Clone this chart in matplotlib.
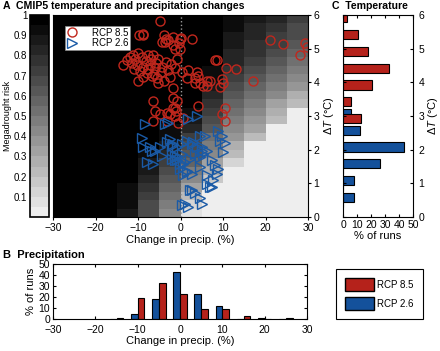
import numpy as np
import matplotlib
matplotlib.use("Agg")
import matplotlib.pyplot as plt
from matplotlib.colors import ListedColormap, Normalize
from matplotlib.patches import Patch

plt.rcParams["font.family"] = ["Liberation Sans", "DejaVu Sans"]
plt.rcParams["mathtext.fontset"] = "custom"
plt.rcParams["mathtext.rm"] = "Liberation Sans"
plt.rcParams["mathtext.it"] = "Liberation Sans:italic"
plt.rcParams["font.size"] = 7

# --- background risk grid (%), rows from dT=6 (top) down to dT=0, cols precip -30..30 ---
precip_edges = [-30, -25, -20, -15, -10, -5, 0, 5, 10, 15, 20, 25, 30]
temp_edges = [i * 0.25 for i in range(25)]
risk_grid = [
    [100, 100, 100, 100, 100, 100, 100, 100, 93, 86, 80, 72],
    [100, 100, 100, 100, 100, 100, 100, 100, 91, 84, 77, 69],
    [100, 100, 100, 100, 100, 100, 100, 100, 89, 81, 74, 65],
    [100, 100, 100, 100, 100, 100, 100, 100, 86, 78, 70, 61],
    [100, 100, 100, 100, 100, 100, 100, 100, 83, 75, 66, 57],
    [100, 100, 100, 100, 100, 100, 100, 97, 80, 71, 62, 52],
    [100, 100, 100, 100, 100, 100, 100, 94, 76, 67, 57, 47],
    [100, 100, 100, 100, 100, 100, 100, 90, 72, 63, 52, 41],
    [100, 100, 100, 100, 100, 100, 100, 86, 68, 58, 46, 35],
    [100, 100, 100, 100, 100, 100, 100, 82, 63, 53, 40, 29],
    [100, 100, 100, 100, 100, 100, 95, 77, 58, 48, 34, 22],
    [100, 100, 100, 100, 100, 100, 90, 72, 53, 42, 27, 3],
    [100, 100, 100, 100, 100, 97, 85, 66, 47, 36, 20, 3],
    [100, 100, 100, 100, 100, 94, 80, 60, 41, 30, 3, 3],
    [100, 100, 100, 100, 97, 90, 74, 54, 35, 22, 3, 3],
    [100, 100, 100, 100, 95, 85, 68, 47, 28, 3, 3, 3],
    [100, 100, 100, 98, 92, 80, 62, 40, 21, 3, 3, 3],
    [100, 100, 100, 97, 88, 74, 55, 33, 14, 3, 3, 3],
    [100, 100, 100, 96, 85, 68, 48, 25, 3, 3, 3, 3],
    [100, 100, 100, 95, 80, 62, 40, 17, 3, 3, 3, 3],
    [100, 100, 100, 93, 76, 56, 30, 3, 3, 3, 3, 3],
    [100, 100, 100, 92, 72, 50, 20, 3, 3, 3, 3, 3],
    [100, 100, 98, 90, 68, 45, 12, 3, 3, 3, 3, 3],
    [100, 100, 98, 89, 65, 42, 8, 3, 3, 3, 3, 3],
]

# --- model runs: (precip change %, dT) ---
rcp85_precip = [-4.8, -9.7, -8.9, -8.75, -4.0, -3.4, -1.7, -0.1, 0.05, -0.3, 2.6,
                -4.4, -2.9, -1.3, -3.6, -1.8, -0.1,
                -13.6, -11.9, -11.1, -9.9, -9.1, -7.6, -6.5, -5.3, -11.5, -10.3, -8.75,
                -7.2, -6.0, -4.4, -2.9, -8.0, -6.8, -5.6, -4.0, -5.2, -1.3, 0.3, 1.8,
                1.5, 3.8, 4.2, 3.4, 6.2, 5.4, -9.9, -1.7,
                -12.5, -10.8, -8.2, -7.0, -5.8, -9.5, -7.6, -3.5, -2.2, -0.8, -11.0,
                -6.3, -4.6, -2.5, -8.8,
                -6.4, -1.7, -0.9, -1.7, -1.3, -1.1, 4.2,
                -6.0, -3.2, -1.3, 0.7, -6.4, -3.2, -4.8, -2.5, -0.5,
                8.1, 8.6, 10.7, 13.1, 9.7, 10.1, 9.3, 17.1, 7.0, 4.6, 3.4, 6.2,
                10.5, 9.7, 10.5, 21.1, 24.2, 28.1, 29.3, 29.7]
rcp85_temp = [5.81, 5.42, 5.42, 5.45, 5.4, 5.3, 5.35, 5.3, 5.32, 5.16, 5.3,
              5.2, 5.25, 5.0, 5.2, 5.1, 5.0,
              4.52, 4.76, 4.81, 4.86, 4.76, 4.8, 4.8, 4.7, 4.57, 4.52, 4.47,
              4.52, 4.42, 4.47, 4.37, 4.27, 4.18, 4.13, 4.03, 3.98, 4.42, 4.32, 4.37,
              4.13, 4.32, 4.18, 3.98, 4.03, 3.88, 4.03, 3.83,
              4.65, 4.68, 4.62, 4.68, 4.58, 4.35, 4.4, 4.6, 4.55, 4.7, 4.4,
              4.25, 4.3, 4.15, 4.15,
              3.46, 3.54, 3.44, 3.24, 3.24, 3.15, 3.29,
              3.15, 3.1, 3.0, 2.95, 2.85, 2.85, 3.05, 3.05, 2.8,
              4.67, 4.67, 4.42, 4.4, 4.1, 3.98, 3.85, 4.05, 4.03, 3.98, 4.13, 3.88,
              3.24, 3.05, 2.85, 5.25, 5.13, 4.81, 5.16, 5.06]

rcp26_precip = [-9.1, -8.4, -8.75, -6.8, -6.0, -8.0, -6.4, -4.4, -4.8, -3.2, -2.5,
                -3.6, -2.9, 1.8, 3.8,
                -2.1, -0.9, 0.3, 1.5, 2.6, 3.8, 5.0, -2.1, -0.9, 0.3, -1.3, -0.1,
                1.1, 2.2, 3.4, 4.6, 1.5, 0.7, 2.6, 4.6,
                5.8, 4.6, 2.2, 3.4, 4.6, 1.1, 1.8, 6.2, 6.2,
                8.9, 9.7, 9.3, 10.5, 10.1, 7.3, 8.1, 8.9, 8.5, 7.7, 7.3, 6.9,
                2.6, 5.0, 0.3,
                -2.1, -0.9, 0.7, -0.1, 1.5, -1.3, 5.0, 6.2, 5.4, -7.2, -1.7, 3.0]
rcp26_temp = [2.36, 2.76, 2.07, 1.97, 1.97, 1.63, 1.58, 1.82, 2.07, 2.22, 2.31,
              2.76, 2.8, 2.9, 3.0,
              2.12, 2.07, 2.17, 2.26, 2.17, 2.07, 1.97, 1.87, 1.82, 1.87, 1.68, 1.58,
              1.63, 1.73, 1.87, 1.77, 1.38, 1.24, 1.29, 1.48,
              2.41, 2.41, 0.8, 0.7, 0.55, 0.4, 0.3, 1.24, 0.99,
              2.56, 2.41, 2.26, 2.21, 1.92, 1.68, 1.53, 1.43, 1.29, 1.09, 0.89, 0.89,
              0.79, 0.4, 0.35,
              1.73, 1.68, 1.58, 1.43, 1.33, 1.82, 2.07, 1.97, 1.87, 2.07, 2.17, 2.22]

# --- histogram B: precip change ---
precip_bins = [-15, -10, -5, 0, 5, 10, 15, 20, 25]
precip_pct_26 = [0, 5, 18.5, 43, 23, 11.5, 0, 1, 0]
precip_pct_85 = [1, 19, 33, 23, 9.5, 9, 2.5, 0, 1]

# --- histogram C: temperature change ---
temp_bins = [0.5, 1.0, 1.5, 2.0, 2.5, 3.0, 3.5, 4.0, 4.5, 5.0, 5.5, 6.0]
temp_pct_26 = [7.5, 7.5, 26.5, 43.5, 12, 6, 0, 0, 0, 0, 0, 0]
temp_pct_85 = [0, 0, 0, 0, 0, 12.5, 5.5, 21, 33, 17.5, 11, 2.5]

RED = "#c0271d"
BLUE = "#1a5aa6"
BAR_RED = "#b5221b"
BAR_BLUE = "#14519b"

W, H = 440, 351
fig = plt.figure(figsize=(W / 100, H / 100), dpi=100)


def box(x0, y0, x1, y1):
    return [x0 / W, 1 - y1 / H, (x1 - x0) / W, (y1 - y0) / H]


levels = 20
cmap = ListedColormap(plt.cm.gray_r(np.linspace(0.07, 1.0, levels)))
norm = Normalize(0, 1)

# ---- panel A ----
ax = fig.add_axes(box(53, 15, 308, 217))
grid = np.flipud(np.array(risk_grid) / 100.0)
mesh = ax.pcolormesh(precip_edges, temp_edges, grid, cmap=cmap, norm=norm)
ax.axvline(0, color="#9a9a9a", ls=":", lw=1)
ax.plot(rcp85_precip, rcp85_temp, "o", ms=6.5, mfc="none", mec=RED, mew=1.0,
        label="RCP 8.5")
ax.plot(rcp26_precip, rcp26_temp, ">", ms=6.5, mfc="none", mec=BLUE, mew=1.0,
        label="RCP 2.6")
ax.set_xlim(-30, 30)
ax.set_ylim(0, 6)
ax.set_xticks([-30, -20, -10, 0, 10, 20, 30])
ax.set_xticklabels(["\u221230", "\u221220", "\u221210", "0", "10", "20", "30"])
ax.yaxis.tick_right()
ax.yaxis.set_label_position("right")
ax.set_yticks(range(7))
ax.tick_params(labelsize=7.5, length=2, pad=2)
ax.set_xlabel("Change in precip. (%)", fontsize=8, labelpad=2)
ax.set_ylabel("\u0394$\\mathit{T}$ (\u00b0C)", fontsize=8, labelpad=2)
leg = ax.legend(loc="upper left", bbox_to_anchor=(0.047, 0.945), fontsize=7,
                frameon=True, fancybox=False, framealpha=1, borderpad=0.15,
                labelspacing=0.05, handlelength=1.2, handletextpad=1.4,
                borderaxespad=0)
leg.get_frame().set_edgecolor("#888888")
leg.get_frame().set_linewidth(0.5)
ax.set_title("A  CMIP5 temperature and precipitation changes", fontsize=7.6,
             fontweight="bold", loc="left", x=-0.196, pad=4.5)

# colorbar
cax = fig.add_axes(box(30, 15, 49, 217))
cb = fig.colorbar(mesh, cax=cax)
cax.yaxis.set_ticks_position("left")
cax.yaxis.set_label_position("left")
cb.set_ticks([0.1, 0.2, 0.3, 0.4, 0.5, 0.6, 0.7, 0.8, 0.9, 1.0])
cb.set_ticklabels(["0.1", "0.2", "0.3", "0.4", "0.5", "0.6", "0.7", "0.8", "0.9", "1"])
cax.tick_params(labelsize=7, length=0, pad=2)
cb.set_label("Megadrought risk", fontsize=6.5, labelpad=1)
cb.outline.set_linewidth(1.2)

# ---- panel B ----
axb = fig.add_axes(box(53, 264, 307, 319))
pb = np.array(precip_bins, dtype=float)
axb.bar(pb - 0.8, precip_pct_26, width=1.6, color=BAR_BLUE, edgecolor="black", lw=0.8)
axb.bar(pb + 0.8, precip_pct_85, width=1.6, color=BAR_RED, edgecolor="black", lw=0.8)
axb.set_xlim(-30, 30)
axb.set_ylim(0, 50)
axb.set_xticks([-30, -20, -10, 0, 10, 20, 30])
axb.set_xticklabels(["\u221230", "\u221220", "\u221210", "0", "10", "20", "30"])
axb.set_yticks([0, 10, 20, 30, 40, 50])
axb.tick_params(labelsize=7.5, direction="in", length=2, pad=2, top=True, right=True)
axb.tick_params(axis="x", pad=4)
axb.set_xlabel("Change in precip. (%)", fontsize=8, labelpad=1)
axb.set_ylabel("% of runs", fontsize=8, labelpad=2)
axb.set_title("B  Precipitation", fontsize=8, fontweight="bold", loc="left",
              x=-0.195, pad=4)

# ---- panel C ----
axc = fig.add_axes(box(343, 15, 413, 217))
tb = np.array(temp_bins)
axc.barh(tb + 0.08, temp_pct_26, height=0.27, color=BAR_BLUE, edgecolor="black", lw=0.8)
axc.barh(tb - 0.08, temp_pct_85, height=0.27, color=BAR_RED, edgecolor="black", lw=0.8)
axc.set_xlim(0, 50)
axc.set_ylim(0, 6)
axc.set_xticks([0, 10, 20, 30, 40, 50])
axc.set_yticks(range(7))
axc.yaxis.tick_right()
axc.yaxis.set_label_position("right")
axc.tick_params(labelsize=7.5, direction="in", length=2, pad=2, top=True, left=True)
axc.tick_params(axis="y", pad=4)
axc.set_xlabel("% of runs", fontsize=8, labelpad=1)
axc.set_ylabel("\u0394$\\mathit{T}$ (\u00b0C)", fontsize=8, labelpad=1)
axc.set_title("C  Temperature", fontsize=7.6, fontweight="bold", loc="left",
              x=-0.16, pad=4.5)

# ---- shared legend ----
handles = [Patch(facecolor=BAR_RED, edgecolor="black", label="RCP 8.5"),
           Patch(facecolor=BAR_BLUE, edgecolor="black", label="RCP 2.6")]
fl = fig.legend(handles=handles, loc="center", bbox_to_anchor=(379.5 / W, 1 - 294 / H),
                fontsize=7, fancybox=False, framealpha=1, handlelength=3.0,
                handleheight=1.6, handletextpad=0.3, labelspacing=0.7, borderpad=0.9)
fl.get_frame().set_edgecolor("black")
fl.get_frame().set_linewidth(0.8)

fig.savefig("out.png", dpi=100)
